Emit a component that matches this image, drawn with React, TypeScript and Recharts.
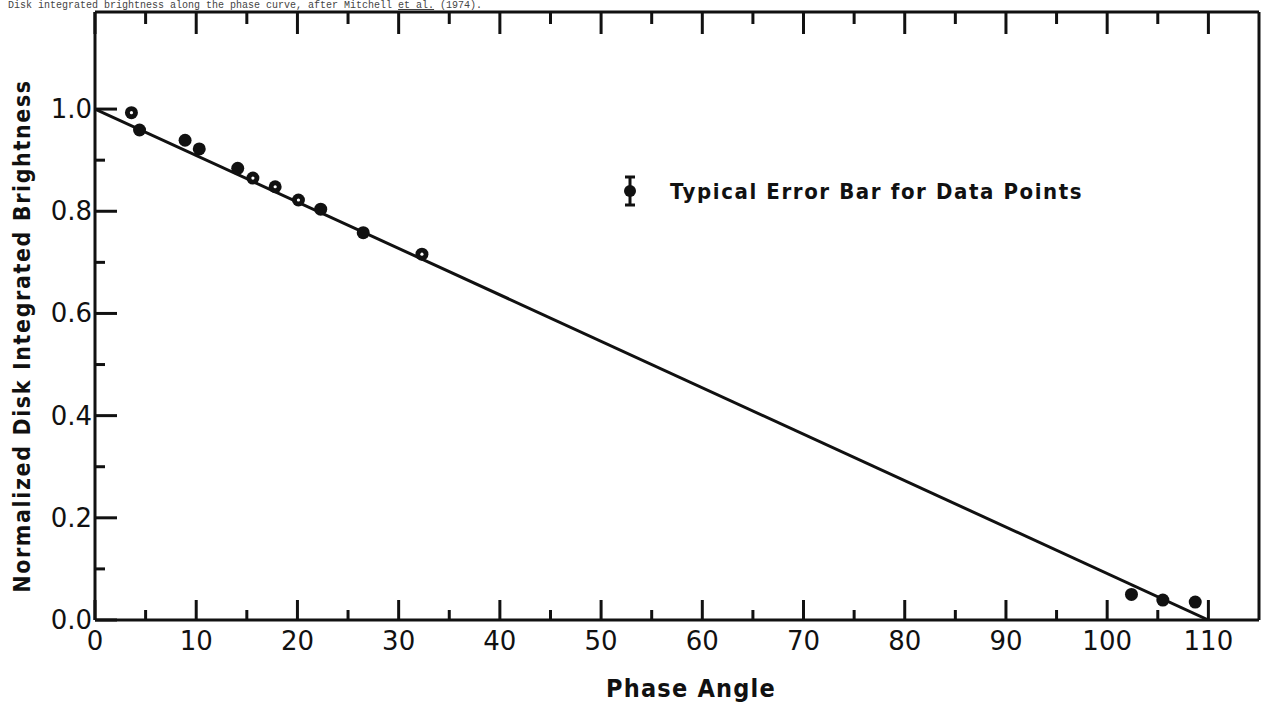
import React from "react"
import { ComposedChart, Scatter, XAxis, YAxis } from "recharts"

// phase angle (deg) / normalized brightness
const solidPhase = [4.4, 8.9, 10.3, 14.1, 22.3, 26.5, 102.4, 105.5, 108.7]
const solidBright = [0.959, 0.939, 0.922, 0.884, 0.804, 0.758, 0.05, 0.039, 0.035]
const ringPhase = [3.6, 15.6, 17.8, 20.1, 32.3]
const ringBright = [0.993, 0.865, 0.848, 0.822, 0.716]

// straight fitted line
const fitPhase = [0, 110]
const fitBright = [1.0, 0.0]

const xTicks = [0, 5, 10, 15, 20, 25, 30, 35, 40, 45, 50, 55, 60, 65, 70, 75, 80, 85, 90, 95, 100, 105, 110]
const yTicks = [0, 0.1, 0.2, 0.3, 0.4, 0.5, 0.6, 0.7, 0.8, 0.9, 1.0]

const solidData = solidPhase.map((x, i) => ({ x, y: solidBright[i] }))
const ringData = ringPhase.map((x, i) => ({ x, y: ringBright[i] }))
const fitData = fitPhase.map((x, i) => ({ x, y: fitBright[i] }))

const INK = "#111"
const NUM_FONT = "'DejaVu Sans', sans-serif"
const LABEL_FONT = "'DejaVu Sans Condensed', 'DejaVu Sans', sans-serif"

const BottomTick = (props: any) => {
  const { x, y, payload } = props
  const major = payload.value % 10 === 0
  return (
    <g>
      <line x1={x} x2={x} y1={y} y2={y - (major ? 20 : 10)} stroke={INK} strokeWidth={3} />
      {major && (
        <text x={x} y={y + 30} textAnchor="middle" fontSize={26} fontFamily={NUM_FONT} fill={INK}>
          {payload.value}
        </text>
      )}
    </g>
  )
}

const TopTick = (props: any) => {
  const { x, y, payload } = props
  const major = payload.value % 10 === 0
  return <line x1={x} x2={x} y1={y} y2={y + (major ? 22 : 12)} stroke={INK} strokeWidth={3} />
}

const LeftTick = (props: any) => {
  const { x, y, payload } = props
  const v = payload.value as number
  const major = Math.round(v * 10) % 2 === 0
  return (
    <g>
      <line x1={x} x2={x + (major ? 22 : 10)} y1={y} y2={y} stroke={INK} strokeWidth={3} />
      {major && (
        <text x={x - 3} y={y + 9} textAnchor="end" fontSize={26} fontFamily={NUM_FONT} fill={INK}>
          {v.toFixed(1)}
        </text>
      )}
    </g>
  )
}

const YTitle = () => (
  <text
    x={22}
    y={336}
    transform="rotate(-90 22 336)"
    textAnchor="middle"
    dominantBaseline="central"
    fontSize={23}
    fontWeight={700}
    letterSpacing={1.6}
    fontFamily={LABEL_FONT}
    fill={INK}
  >
    Normalized Disk Integrated Brightness
  </text>
)

const XTitle = () => (
  <text
    x={691}
    y={697}
    textAnchor="middle"
    fontSize={25}
    fontWeight={700}
    letterSpacing={1.2}
    fontFamily={LABEL_FONT}
    fill={INK}
  >
    Phase Angle
  </text>
)

const dot = (ring: boolean) => (p: any) => (
  <g>
    <circle cx={p.cx} cy={p.cy} r={6.5} fill={INK} />
    {ring && <circle cx={p.cx} cy={p.cy} r={1.6} fill="#fff" />}
  </g>
)

export default function App() {
  return (
    <div style={{ position: "absolute", left: 0, top: 0, width: 1267, height: 707, background: "#fff" }}>
      <div
        style={{
          position: "absolute",
          left: 8,
          top: 0,
          fontFamily: "'Liberation Mono', monospace",
          fontSize: 10,
          lineHeight: "11px",
          color: "#444",
          whiteSpace: "nowrap",
        }}
      >
        Disk integrated brightness along the phase curve, after Mitchell <u>et al.</u> (1974).
      </div>
      <ComposedChart width={1267} height={707} margin={{ top: 0, right: 0, bottom: 0, left: 0 }}>
        <XAxis
          xAxisId="b"
          type="number"
          dataKey="x"
          domain={[0, 115]}
          ticks={xTicks}
          interval={0}
          height={87}
          tickSize={0}
          tickMargin={0}
          tick={<BottomTick />}
          axisLine={{ stroke: INK, strokeWidth: 3 }}
          allowDataOverflow
          label={{ content: () => <XTitle /> }}
        />
        <XAxis
          xAxisId="t"
          orientation="top"
          type="number"
          dataKey="x"
          domain={[0, 115]}
          ticks={xTicks}
          interval={0}
          height={12}
          tickSize={0}
          tickMargin={0}
          tick={<TopTick />}
          axisLine={{ stroke: INK, strokeWidth: 3 }}
          allowDataOverflow
        />
        <YAxis
          yAxisId="l"
          type="number"
          dataKey="y"
          domain={[0, 1.19]}
          ticks={yTicks}
          interval={0}
          width={95}
          tickSize={0}
          tickMargin={0}
          tick={<LeftTick />}
          axisLine={{ stroke: INK, strokeWidth: 3 }}
          allowDataOverflow
          label={{ content: () => <YTitle /> }}
        />
        <YAxis
          yAxisId="r"
          orientation="right"
          type="number"
          domain={[0, 1.19]}
          width={8}
          tick={false}
          tickLine={false}
          axisLine={{ stroke: INK, strokeWidth: 3 }}
          allowDataOverflow
        />
        <Scatter
          xAxisId="b"
          yAxisId="l"
          data={fitData}
          line={{ stroke: INK, strokeWidth: 3 }}
          shape={() => <g />}
          isAnimationActive={false}
        />
        <Scatter xAxisId="b" yAxisId="l" data={solidData} shape={dot(false)} isAnimationActive={false} />
        <Scatter xAxisId="b" yAxisId="l" data={ringData} shape={dot(true)} isAnimationActive={false} />
      </ComposedChart>
      <div style={{ position: "absolute", left: 622, top: 174, display: "flex", alignItems: "center" }}>
        <svg width={16} height={34}>
          <line x1={8} x2={8} y1={3} y2={31} stroke={INK} strokeWidth={3} />
          <line x1={3} x2={13} y1={3} y2={3} stroke={INK} strokeWidth={3} />
          <line x1={3} x2={13} y1={31} y2={31} stroke={INK} strokeWidth={3} />
          <circle cx={8} cy={17} r={6} fill={INK} />
        </svg>
        <span
          style={{
            marginLeft: 32,
            fontFamily: LABEL_FONT,
            fontWeight: 700,
            fontSize: 22,
            letterSpacing: 1.6,
            color: INK,
            whiteSpace: "nowrap",
          }}
        >
          Typical Error Bar for Data Points
        </span>
      </div>
    </div>
  )
}
